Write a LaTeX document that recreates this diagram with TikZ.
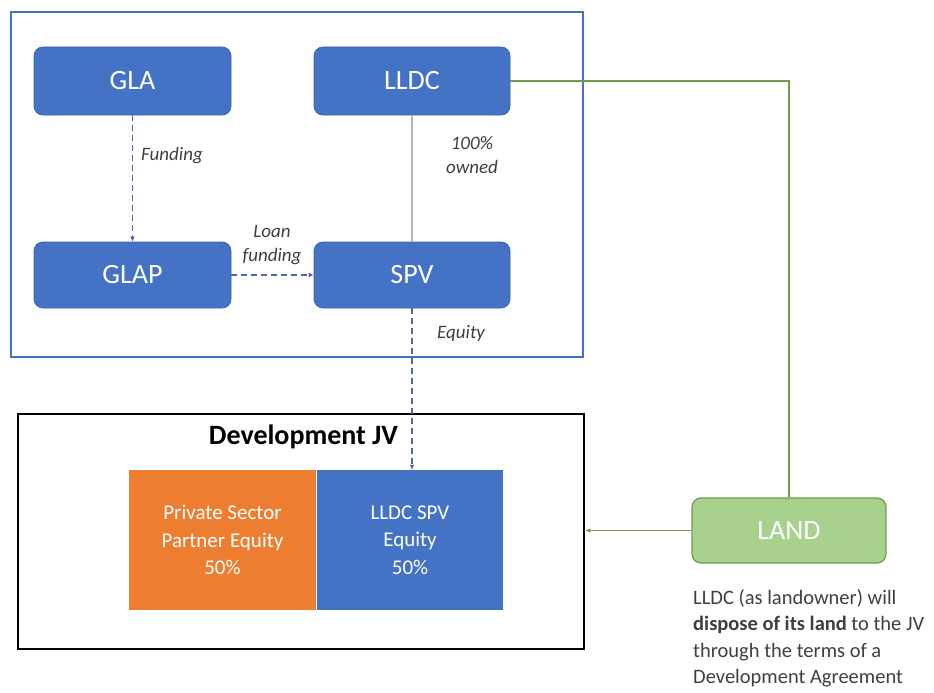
\documentclass[tikz,border=0pt]{standalone}
\usepackage{fontspec}
\setmainfont{Carlito}
\usetikzlibrary{arrows.meta}
\definecolor{boxblue}{HTML}{4472C4}
\definecolor{boxborder}{HTML}{3A64B0}
\definecolor{orng}{HTML}{ED7D31}
\definecolor{lgreen}{HTML}{A9D18E}
\definecolor{dgreen}{HTML}{6E9B50}
\definecolor{dashblue}{HTML}{4F62AA}
\definecolor{lblgray}{HTML}{3F3F3F}
\tikzset{
  bluebox/.style={rounded corners=9pt, fill=boxblue, draw=boxborder, line width=0.8pt,
    text=white, font=\fontsize{28}{32}\selectfont, inner sep=0pt},
  sqbox/.style={inner sep=0pt, text=white, align=center, font=\fontsize{21}{27.5}\selectfont},
  lbl/.style={text=lblgray, font=\itshape\fontsize{19}{24}\selectfont, inner sep=0pt},
  dasharrow/.style={draw=dashblue, line width=1.3pt, dash pattern=on 6pt off 4pt,
    -{Latex[length=5pt,width=5pt]}},
  greenline/.style={draw=dgreen, line width=1.2pt},
}
\begin{document}
\begin{tikzpicture}[x=1pt,y=-1pt]
\useasboundingbox (0,0) rectangle (934,693);
% frames
\node[draw=boxblue, line width=2.5pt, minimum width=572pt, minimum height=345pt, inner sep=0pt] (outer) at (297,184.5) {};
\node[draw=black, line width=2.8pt, minimum width=566pt, minimum height=235pt, inner sep=0pt] (jv) at (301,531.5) {};
% top boxes
\node[bluebox, minimum width=197pt, minimum height=68pt] (gla) at (132.5,81) {GLA};
\node[bluebox, minimum width=196pt, minimum height=68pt] (lldc) at (412,81) {LLDC};
\node[bluebox, minimum width=197pt, minimum height=66pt] (glap) at (132.5,275) {GLAP};
\node[bluebox, minimum width=196pt, minimum height=66pt] (spv) at (412,275) {SPV};
% JV
\node[font=\bfseries\fontsize{28}{32}\selectfont, inner sep=0pt] (jvtitle) at (303.5,437) {Development JV};
\node[sqbox, fill=orng, minimum width=187pt, minimum height=140pt] (pse) at (222.5,540) {Private Sector\\Partner Equity\\50\%};
\node[sqbox, fill=boxblue, minimum width=186pt, minimum height=140pt] (jvb) at (410,540) {LLDC SPV\\Equity\\50\%};
% land
\node[rounded corners=9pt, fill=lgreen, draw=dgreen, line width=1.2pt, text=white,
  font=\fontsize{28}{32}\selectfont, minimum width=194pt, minimum height=65pt, inner sep=0pt] (land) at (789,530.5) {LAND};
\node[anchor=north west, align=left, inner sep=0pt, text=lblgray, font=\fontsize{20.5}{26.5}\selectfont] (note) at (693,589)
  {LLDC (as landowner) will\\\textbf{dispose of its land} to the JV\\through the terms of a\\Development Agreement};
% labels
\node[lbl, anchor=west] (lfund) at (141,156) {Funding};
\node[lbl, align=center] (lown) at (472,155) {100\%\\owned};
\node[lbl, align=center] (lloan) at (272,245) {Loan\\funding};
\node[lbl, anchor=west] (leq) at (437,333) {Equity};
% connectors
\draw[dasharrow] (gla.south) -- (glap.north);
\draw[dasharrow] (glap.east) -- (spv.west);
\draw[draw=black!30, line width=1.2pt] (lldc.south) -- (spv.north);
\draw[dasharrow] (spv.south) -- (spv.south |- jvb.north);
\draw[greenline] (lldc.east) -- (land.north |- lldc.east) -- (land.north);
\draw[greenline, -{Latex[length=5pt,width=5pt]}] (land.west) -- (jv.east |- land.west);
\end{tikzpicture}
\end{document}
